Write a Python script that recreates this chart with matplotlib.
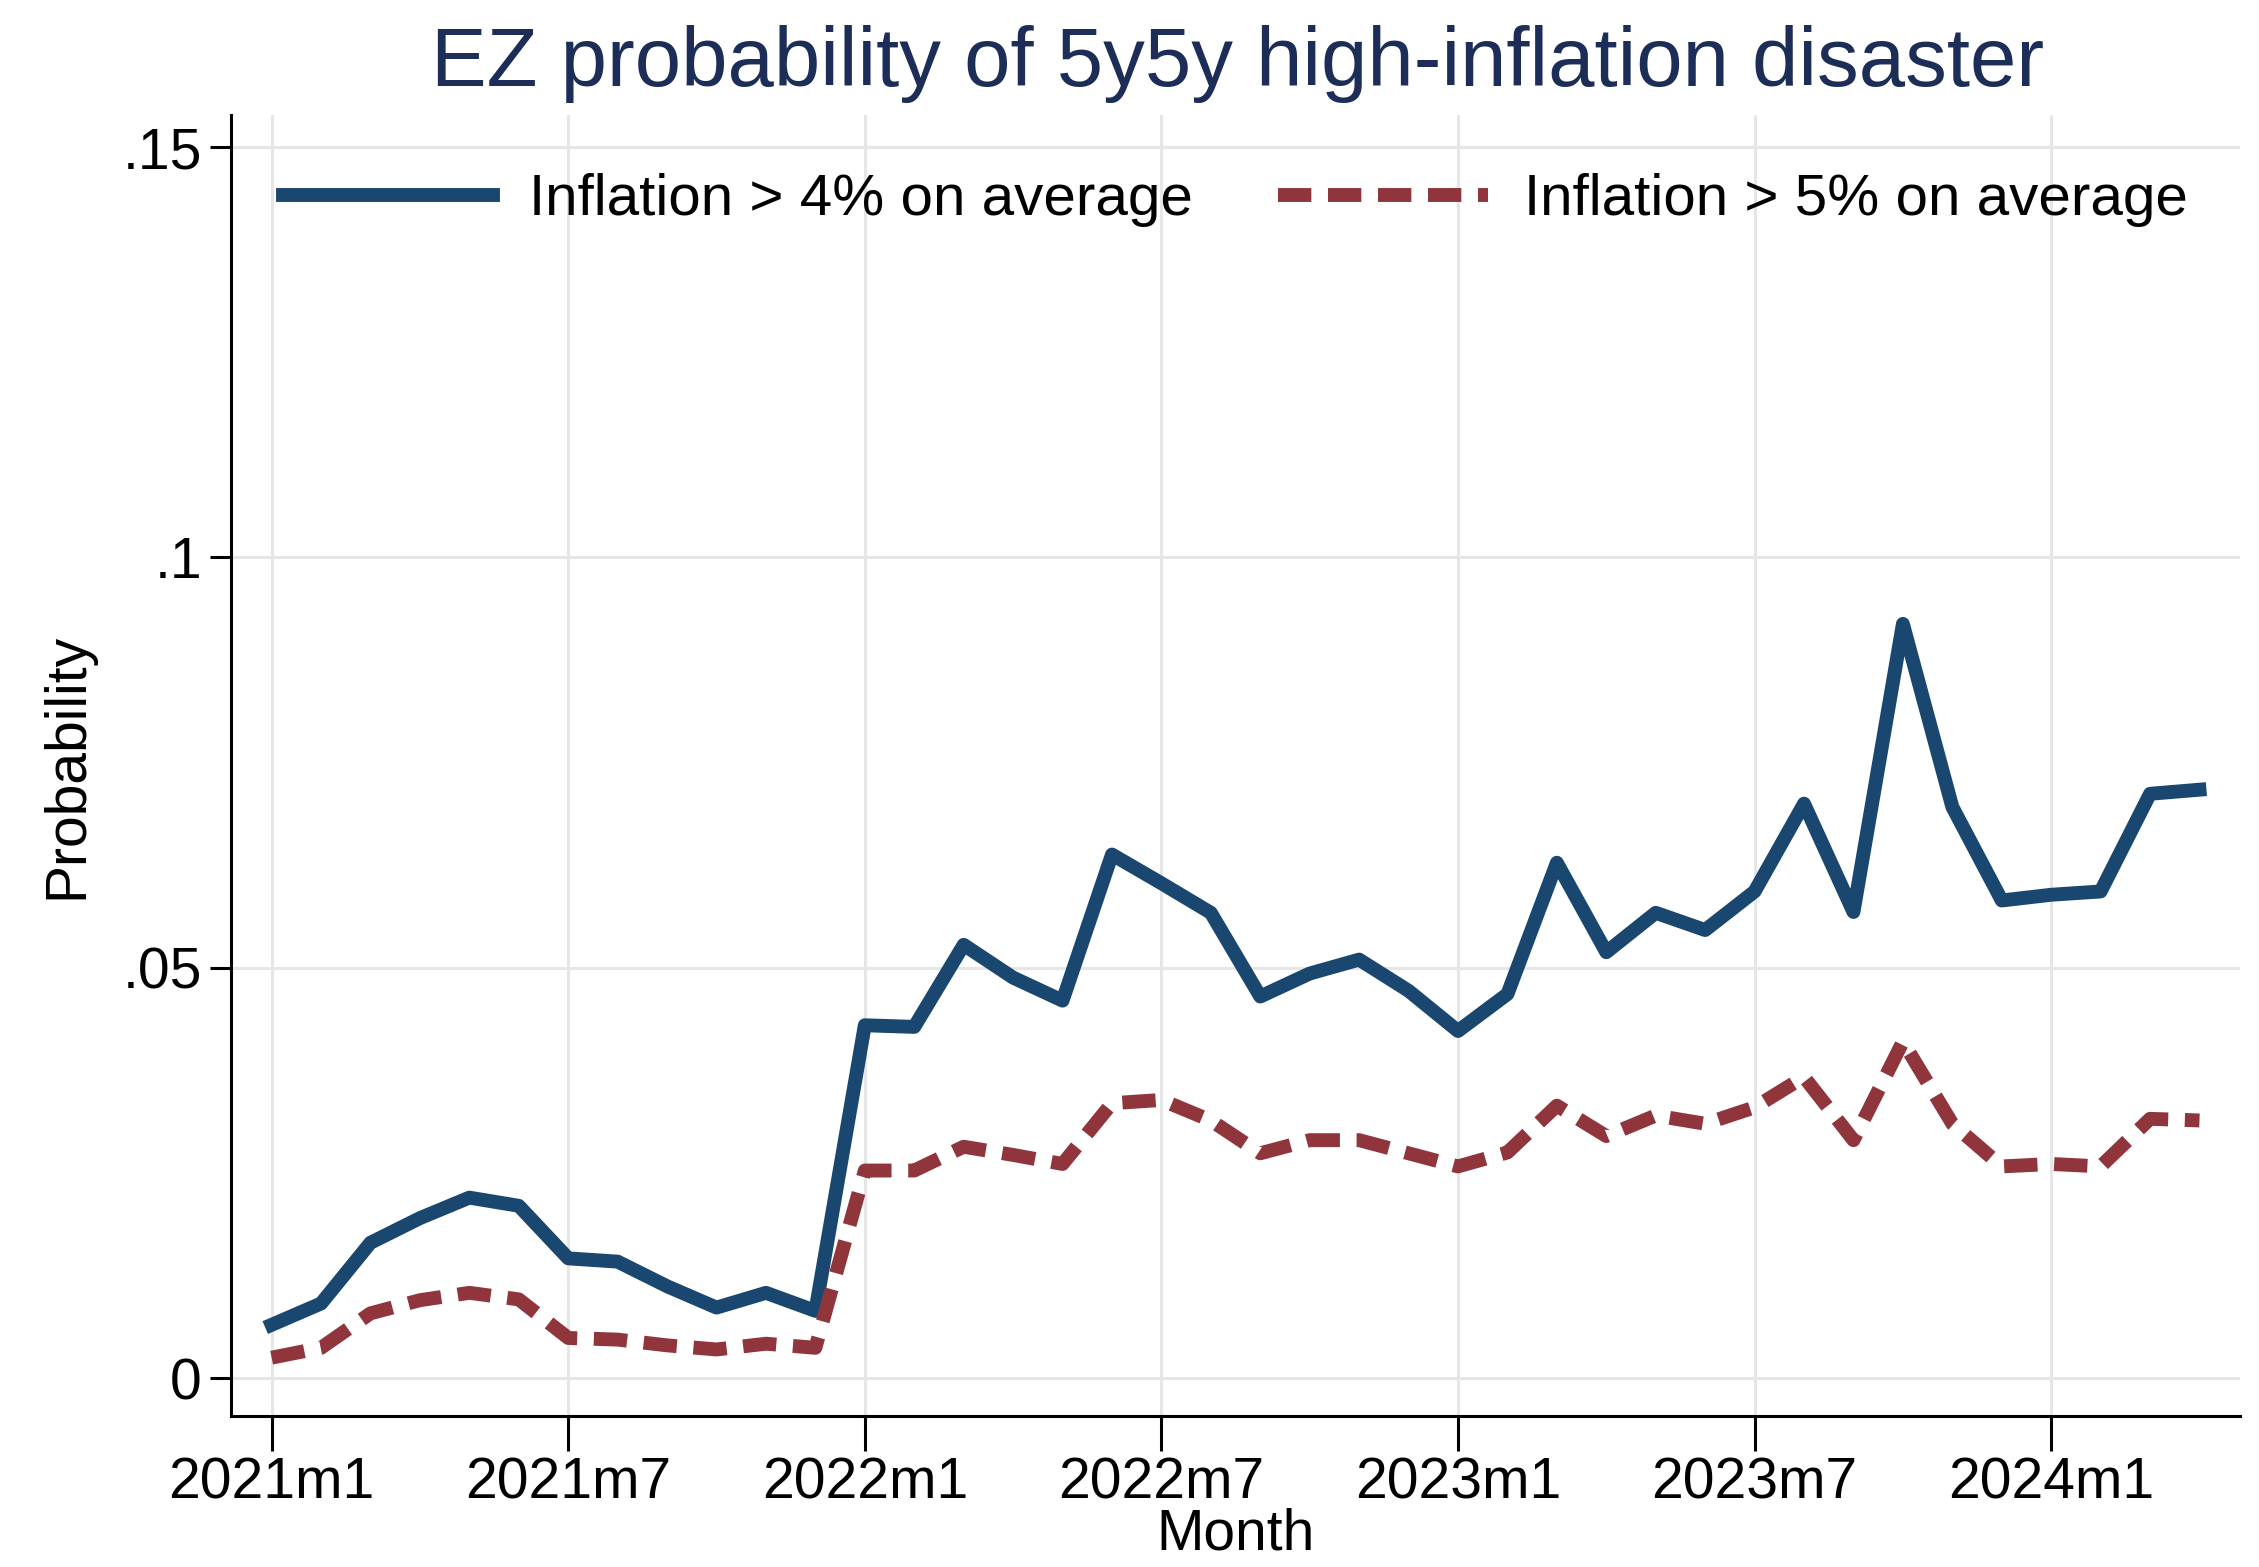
import numpy as np
import pandas as pd
import matplotlib
matplotlib.use("Agg")
import matplotlib.pyplot as plt

plt.rcParams['font.family'] = ['Liberation Sans', 'DejaVu Sans']

# monthly, 2021m1 .. 2024m4
months = pd.period_range("2021-01", "2024-04", freq="M")
p_gt4 = [0.0065, 0.0091, 0.0165, 0.0195, 0.0220, 0.0210, 0.0146, 0.0142, 0.0112, 0.0086,
         0.0104, 0.0082, 0.0430, 0.0428, 0.0528, 0.0488, 0.0460, 0.0638, 0.0603, 0.0567,
         0.0465, 0.0493, 0.0510, 0.0472, 0.0423, 0.0468, 0.0628, 0.0519, 0.0567, 0.0546,
         0.0593, 0.0700, 0.0568, 0.0919, 0.0696, 0.0582, 0.0589, 0.0593, 0.0712, 0.0717]
p_gt5 = [0.0025, 0.0037, 0.0079, 0.0095, 0.0104, 0.0096, 0.0049, 0.0047, 0.0040, 0.0035,
         0.0042, 0.0037, 0.0253, 0.0253, 0.0282, 0.0272, 0.0261, 0.0335, 0.0339, 0.0314,
         0.0274, 0.0290, 0.0290, 0.0274, 0.0258, 0.0275, 0.0332, 0.0295, 0.0320, 0.0310,
         0.0330, 0.0367, 0.0290, 0.0410, 0.0310, 0.0258, 0.0261, 0.0258, 0.0316, 0.0314]
xtick_labels = ["2021m1", "2021m7", "2022m1", "2022m7", "2023m1", "2023m7", "2024m1"]
ytick_vals = [0, 0.05, 0.1, 0.15]
ytick_labels = ["0", ".05", ".1", ".15"]

navy = "#1a476f"
maroon = "#90353b"

x = np.arange(len(months))

fig = plt.figure(figsize=(22.59, 15.67), dpi=100)
ax = fig.add_axes([0.1023, 0.0964, 0.8893, 0.8302])

ax.plot(x, p_gt4, color=navy, lw=10, solid_joinstyle='round', label="Inflation > 4% on average")
ax.plot(x, p_gt5, color=maroon, lw=10, dashes=(2.4, 1.2), label="Inflation > 5% on average")

ax.set_xlim(-0.82, 39.82)
ax.set_ylim(-0.0046, 0.1539)
ax.set_xticks(np.arange(0, 40, 6))
ax.set_xticklabels(xtick_labels)
ax.set_yticks(ytick_vals)
ax.set_yticklabels(ytick_labels)
ax.grid(True, color="#e6e6e6", lw=2.2)
ax.set_axisbelow(True)

for s in ["top", "right"]:
    ax.spines[s].set_visible(False)
for s in ["left", "bottom"]:
    ax.spines[s].set_linewidth(2.2)
ax.tick_params(axis="both", labelsize=41, width=2.2, direction="out")
ax.tick_params(axis="x", length=25, pad=4)
ax.tick_params(axis="y", length=15, pad=6)

ax.set_ylabel("Probability", fontsize=41, labelpad=20)
ax.set_xlabel("Month", fontsize=41, labelpad=-2)

fig.suptitle("EZ probability of 5y5y high-inflation disaster", fontsize=60, color="#1c2d57",
             x=0.548, y=0.984, va="top")

ax.legend(loc="upper center", bbox_to_anchor=(0.5, 1.0), ncol=2, frameon=False, fontsize=42,
          handlelength=3.6, columnspacing=1.45, handletextpad=0.62, borderaxespad=0.6)

fig.savefig("out.png", dpi=100)
